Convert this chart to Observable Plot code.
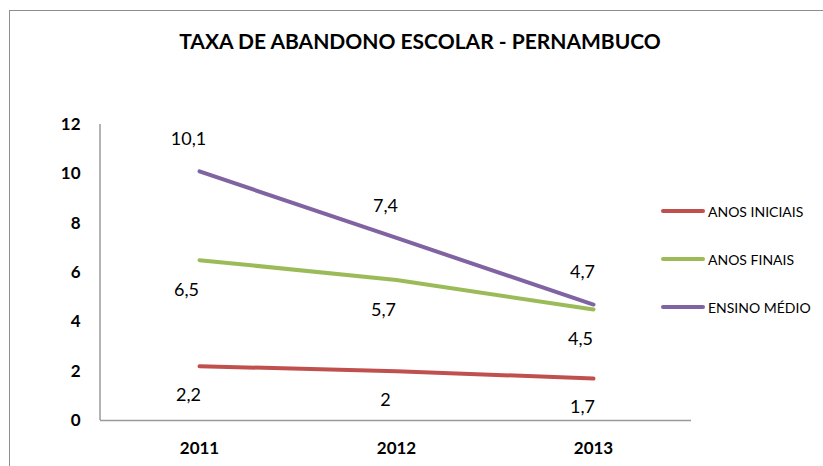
<!DOCTYPE html>
<html>
<head>
<meta charset="utf-8">
<script src="https://cdn.jsdelivr.net/npm/d3@7"></script>
<script src="https://cdn.jsdelivr.net/npm/@observablehq/plot@0.6"></script>
<style>
  html, body { margin: 0; padding: 0; background: #fff; }
  #wrap { position: relative; width: 823px; height: 466px; overflow: hidden; font-family: Lato, "Open Sans", sans-serif; }
  #frame { position: absolute; left: 9px; top: 10px; width: 900px; height: 600px; border: 1.5px solid #8e8e8e; box-sizing: border-box; }
  #title { position: absolute; left: 0; width: 840px; top: 28px; text-align: center; font-weight: bold; font-size: 21px; color: #000; }
  #chart { position: absolute; left: 0; top: 0; }
  #legend { position: absolute; left: 661px; top: 0; }
  .lg { position: absolute; left: 0; display: flex; align-items: center; white-space: nowrap; font-size: 14px; color: #000; }
  .lg svg { margin-right: 3px; }
</style>
</head>
<body>
<div id="wrap">
  <div id="frame"></div>
  <div id="chart"></div>
  <div id="title">TAXA DE ABANDONO ESCOLAR - PERNAMBUCO</div>
  <div id="legend"></div>
</div>
<script>
const years = ["2011", "2012", "2013"];
const seriesNames = ["ANOS INICIAIS", "ANOS FINAIS", "ENSINO MÉDIO"];
const anosIniciais = [2.2, 2.0, 1.7];
const anosFinais = [6.5, 5.7, 4.5];
const ensinoMedio = [10.1, 7.4, 4.7];
const labelsIniciais = ["2,2", "2", "1,7"];
const labelsFinais = ["6,5", "5,7", "4,5"];
const labelsMedio = ["10,1", "7,4", "4,7"];
const colors = ["#C0504D", "#9BBB59", "#8064A2"];
const yTicks = [0, 2, 4, 6, 8, 10, 12];

const allValues = [anosIniciais, anosFinais, ensinoMedio];
const allLabels = [labelsIniciais, labelsFinais, labelsMedio];
const rows = seriesNames.map((s, i) => years.map((y, j) => ({
  series: s, year: y, value: allValues[i][j], label: allLabels[i][j]
})));
const data = rows.flat();

const plot = Plot.plot({
  width: 823,
  height: 466,
  marginLeft: 100,
  marginRight: 132,
  marginTop: 124,
  marginBottom: 46,
  style: { fontFamily: "Lato, 'Open Sans', sans-serif", background: "transparent" },
  x: { type: "point", domain: years, padding: 0.5 },
  y: { domain: [0, 12] },
  color: { domain: seriesNames, range: colors },
  marks: [
    Plot.axisY({ ticks: yTicks, tickSize: 0, tickPadding: 20, fontSize: 17, fontWeight: "bold", fill: "#000", label: null }),
    Plot.axisX({ tickSize: 0, tickPadding: 21, fontSize: 17, fontWeight: "bold", fill: "#000", label: null }),
    Plot.ruleY([0], { stroke: "#9a9a9a", strokeWidth: 1.5 }),
    Plot.lineY(data, { x: "year", y: "value", stroke: "series", z: "series", strokeWidth: 4, strokeLinecap: "round" }),
    Plot.text(rows[0], { x: "year", y: "value", text: "label", dx: -11, dy: 29, fontSize: 18, fill: "#000" }),
    Plot.text(rows[1], { x: "year", y: "value", text: "label", dx: -13, dy: 30, fontSize: 18, fill: "#000" }),
    Plot.text(rows[2], { x: "year", y: "value", text: "label", dx: -11, dy: -32, fontSize: 18, fill: "#000" })
  ]
});
document.getElementById("chart").appendChild(plot);

// y axis line along left edge of the plot area
const svg = d3.select(plot);
const yScale = plot.scale("y");
svg.append("line")
  .attr("x1", 100).attr("x2", 100)
  .attr("y1", yScale.apply(12)).attr("y2", yScale.apply(0))
  .attr("stroke", "#9a9a9a").attr("stroke-width", 1.5);

// legend
const legend = document.getElementById("legend");
const legendTops = [211, 259, 307];
seriesNames.forEach((s, i) => {
  const row = document.createElement("div");
  row.className = "lg";
  row.style.top = (legendTops[i] - 9) + "px";
  row.style.height = "18px";
  row.innerHTML = `<svg width="44" height="8"><line x1="2" x2="42" y1="4" y2="4" stroke="${colors[i]}" stroke-width="4" stroke-linecap="round"/></svg><span>${s}</span>`;
  legend.appendChild(row);
});
</script>
</body>
</html>
